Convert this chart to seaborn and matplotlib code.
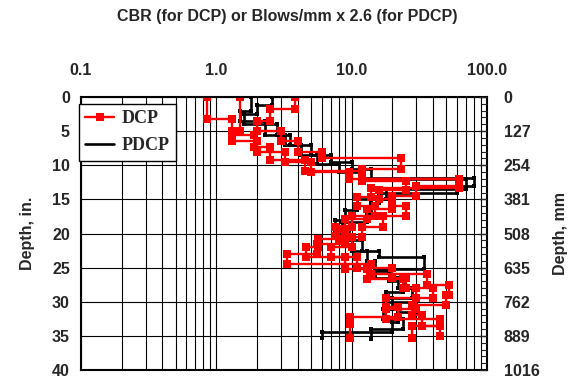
import numpy as np
import pandas as pd
import seaborn as sns
from matplotlib import pyplot as plt
from matplotlib.lines import Line2D
import matplotlib.ticker as mtick

# DCP tests: layer boundaries (in.) and CBR per layer
dcp_a_depth = [0, 3.2, 5.6, 7.3, 9.2, 10.8, 12.3, 13.6, 15.0, 16.4, 17.9, 19.3, 20.8,
               22.0, 23.5, 25.2, 26.6, 28.0, 29.4, 30.8, 32.2, 33.2, 35.3]
dcp_a_cbr = [0.85, 1.3, 1.9, 2.5, 4.5, 12, 25, 16, 20, 13, 9, 8, 5.6,
             4.6, 9, 13, 24, 30, 18, 22, 9.8, 9.8]
dcp_b_depth = [0, 5.0, 6.5, 8.0, 9.5, 11.0, 12.0, 13.3, 14.6, 16.0, 17.5, 19.0, 20.3,
               21.6, 23.0, 24.5, 26.0, 27.5, 29.0, 30.5, 32.0, 33.5, 35.0]
dcp_b_cbr = [1.5, 1.3, 2.0, 3.2, 5.0, 9.5, 62, 14, 11, 15, 10, 7.5, 9,
             5.5, 3.3, 14, 36, 52, 50, 28, 33, 45]
dcp_c_depth = [0, 1.7, 3.5, 5.0, 6.5, 8.0, 9.0, 10.5, 12.0, 13.0, 14.5, 16.0, 17.5,
               19.0, 20.5, 22.0, 23.5, 25.0, 26.5, 28.0, 29.5, 31.0, 32.5, 33.5, 35.3]
dcp_c_cbr = [3.8, 2.5, 2.0, 3.0, 4.0, 6.0, 23, 12, 62, 30, 20, 25, 17,
             12, 10, 7, 11, 20, 25, 40, 30, 18, 45, 28]

# PDCP tests: layer boundaries (in.) and blows/mm x 2.6
pdcp_d_depth = [0, 2.0, 3.5, 5.5, 7.0, 8.5, 9.8, 11.0, 11.8, 13.0, 14.0, 15.5, 17.0,
                18.3, 19.5, 21.0, 22.5, 23.5, 25.2, 26.5, 28.0, 29.5, 31.0, 32.5, 34.0, 35.5]
pdcp_d_val = [1.8, 1.5, 2.3, 3.2, 4.2, 5.5, 8, 12, 80, 60, 16, 14, 13,
              8.5, 9.5, 12, 16, 34, 15, 22, 28, 20, 17, 24, 14]
pdcp_e_depth = [0, 1.2, 2.5, 4.0, 5.5, 7.0, 8.5, 9.5, 10.5, 12.0, 13.5, 15.0, 16.5,
                18.0, 19.5, 21.0, 22.5, 24.0, 25.5, 27.0, 28.5, 30.0, 31.5, 33.0, 34.5, 35.3]
pdcp_e_val = [2.6, 2.0, 1.6, 2.8, 3.5, 5.0, 7.0, 10, 14, 70, 18, 11, 9,
              7.5, 8, 10, 13, 15, 19, 24, 18, 30, 22, 20, 6]

depth_ticks_in = [0, 5, 10, 15, 20, 25, 30, 35, 40]
depth_ticks_mm = [0, 127, 254, 381, 508, 635, 762, 889, 1016]


def step_profile(name, depths, values):
    # each layer drawn as a vertical segment between its top and bottom depth
    rows = []
    for i, v in enumerate(values):
        rows.append((name, v, depths[i]))
        rows.append((name, v, depths[i + 1]))
    return pd.DataFrame(rows, columns=["test", "value", "depth"])


dcp = pd.concat([step_profile("A", dcp_a_depth, dcp_a_cbr),
                 step_profile("B", dcp_b_depth, dcp_b_cbr),
                 step_profile("C", dcp_c_depth, dcp_c_cbr)])
pdcp = pd.concat([step_profile("D", pdcp_d_depth, pdcp_d_val),
                  step_profile("E", pdcp_e_depth, pdcp_e_val)])

sns.set_style("white")
plt.rcParams["font.family"] = ["Liberation Sans", "DejaVu Sans"]
plt.rcParams["font.weight"] = "bold"

fig = plt.figure(figsize=(5.75, 3.76), dpi=100)
ax = fig.add_axes([81 / 575, 1 - 370 / 376, (487 - 81) / 575, (370 - 97) / 376])

sns.lineplot(data=pdcp, x="value", y="depth", units="test", estimator=None, sort=False,
             color="black", lw=1.9, marker="s", markersize=3.2, markeredgewidth=0, ax=ax)
sns.lineplot(data=dcp, x="value", y="depth", units="test", estimator=None, sort=False,
             color="red", lw=1.7, marker="s", markersize=5.8, markeredgewidth=0, ax=ax)

ax.set_xscale("log")
ax.set_xlim(0.1, 100)
ax.set_ylim(40, 0)
ax.xaxis.tick_top()
ax.set_xticks([0.1, 1, 10, 100])
ax.xaxis.set_major_formatter(mtick.FixedFormatter(["0.1", "1.0", "10.0", "100.0"]))
ax.xaxis.set_minor_formatter(mtick.NullFormatter())
ax.set_yticks(depth_ticks_in)
ax.tick_params(which="both", length=0, labelsize=11.5, pad=8)
ax.tick_params(axis="x", pad=14)
ax.grid(which="both", axis="x", color="black", lw=0.8)
ax.grid(which="major", axis="y", color="black", lw=0.8)
ax.set_xlabel("")
ax.set_ylabel("Depth, in.", fontsize=11.5, fontweight="bold", labelpad=12)
for s in ax.spines.values():
    s.set_color("black")
    s.set_linewidth(1.5)

ax2 = ax.twinx()
ax2.set_ylim(1016, 0)
ax2.set_yticks(depth_ticks_mm)
ax2.yaxis.set_minor_locator(mtick.MultipleLocator(25.4))
ax2.tick_params(which="major", direction="in", length=6, width=1, labelsize=11.5, pad=12)
ax2.tick_params(which="minor", direction="in", length=4, width=0.8)
ax2.set_ylabel("Depth, mm", fontsize=11.5, fontweight="bold", rotation=90, labelpad=10)
for s in ax2.spines.values():
    s.set_visible(False)

handles = [Line2D([], [], color="red", lw=1.7, marker="s", markersize=5.8, markeredgewidth=0),
           Line2D([], [], color="black", lw=1.9)]
ax.legend(handles, ["DCP", "PDCP"], loc="upper left",
          bbox_to_anchor=(79 / 575, 1 - 104 / 376), bbox_transform=fig.transFigure,
          borderaxespad=0, frameon=True, fancybox=False, framealpha=1, edgecolor="black",
          handlelength=1.6, handletextpad=0.4, borderpad=0.35, labelspacing=0.55,
          prop={"family": "Liberation Serif", "weight": "bold", "size": 13})

fig.suptitle("CBR (for DCP) or Blows/mm x 2.6 (for PDCP)", x=0.5, y=0.975,
             fontsize=11.5, fontweight="bold")

fig.savefig("out.png", dpi=100)
